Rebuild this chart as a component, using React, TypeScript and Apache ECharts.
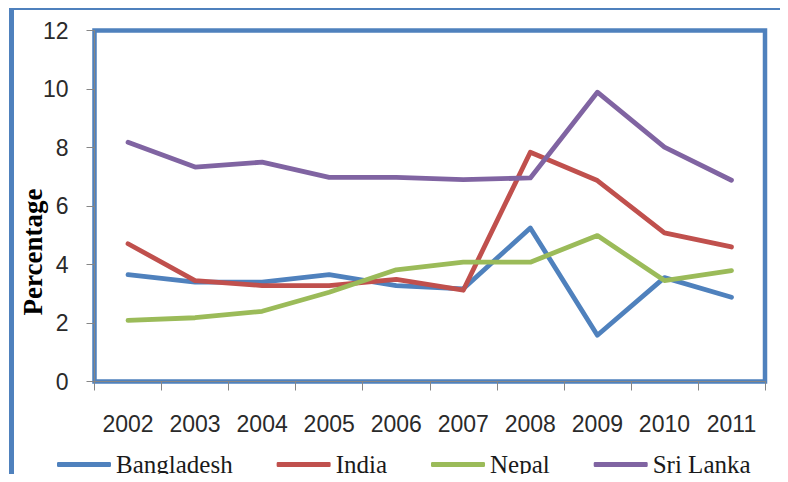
import React, { useEffect, useRef } from "react";
import * as echarts from "echarts";

const years = ["2002", "2003", "2004", "2005", "2006", "2007", "2008", "2009", "2010", "2011"];
const bangladesh = [3.65, 3.4, 3.4, 3.65, 3.28, 3.17, 5.25, 1.58, 3.55, 2.88];
const india = [4.71, 3.45, 3.28, 3.28, 3.49, 3.12, 7.84, 6.87, 5.08, 4.6];
const nepal = [2.09, 2.18, 2.4, 3.05, 3.82, 4.08, 4.08, 4.99, 3.45, 3.79];
const sriLanka = [8.18, 7.33, 7.5, 6.98, 6.98, 6.9, 6.96, 9.89, 8.01, 6.88];
const seriesNames = ["Bangladesh", "India", "Nepal", "Sri Lanka"];
const seriesColors = ["#4f81bd", "#c0504d", "#9bbb59", "#8064a2"];
const yAxisTitle = "Percentage";

export default function App() {
  const ref = useRef<HTMLDivElement>(null);
  useEffect(() => {
    if (!ref.current) return;
    const chart = echarts.init(ref.current, undefined, { renderer: "svg" });
    const data = [bangladesh, india, nepal, sriLanka];
    chart.setOption({
      animation: false,
      backgroundColor: "#ffffff",
      grid: {
        left: 94.5,
        top: 30.5,
        right: 23,
        bottom: 100.5,
        show: true,
        borderColor: "#4f81bd",
        borderWidth: 4.5,
        containLabel: false,
      },
      xAxis: {
        type: "category",
        data: years,
        boundaryGap: true,
        axisLine: { show: true, lineStyle: { color: "#868686", width: 1 } },
        axisTick: { show: true, length: 9, lineStyle: { color: "#868686" } },
        axisLabel: {
          margin: 31,
          fontFamily: "Liberation Sans",
          fontSize: 23,
          color: "#2a2a2a",
        },
      },
      yAxis: {
        type: "value",
        min: 0,
        max: 12,
        interval: 2,
        splitLine: { show: false },
        axisLine: { show: true, lineStyle: { color: "#868686", width: 1 } },
        axisTick: { show: true, length: 8, lineStyle: { color: "#868686" } },
        axisLabel: {
          margin: 26,
          fontFamily: "Liberation Sans",
          fontSize: 23,
          color: "#2a2a2a",
        },
      },
      legend: {
        left: 57,
        top: 452,
        padding: 0,
        itemWidth: 54,
        itemHeight: 5,
        itemGap: 44,
        icon: "roundRect",
        textStyle: {
          fontFamily: "Liberation Serif",
          fontSize: 25,
          color: "#1a1a1a",
        },
        data: seriesNames,
      },
      graphic: [
        {
          type: "rect",
          shape: { x: 11.5, y: 7.5, width: 772, height: 520 },
          style: { fill: "none", stroke: "#4f81bd", lineWidth: 5 },
          z: -1,
          silent: true,
        },
        {
          type: "text",
          x: 33,
          y: 252,
          rotation: Math.PI / 2,
          style: {
            text: yAxisTitle,
            fontFamily: "Liberation Serif",
            fontWeight: "bold",
            fontSize: 27,
            fill: "#000",
            textAlign: "center",
            textVerticalAlign: "middle",
          },
        },
      ],
      series: seriesNames.map((name, i) => ({
        name,
        type: "line",
        data: data[i],
        symbol: "none",
        color: seriesColors[i],
        lineStyle: { width: 4.8, color: seriesColors[i], cap: "round", join: "round" },
      })),
    });
    return () => chart.dispose();
  }, []);
  return <div ref={ref} style={{ width: 788, height: 482, margin: -8 }} />;
}
